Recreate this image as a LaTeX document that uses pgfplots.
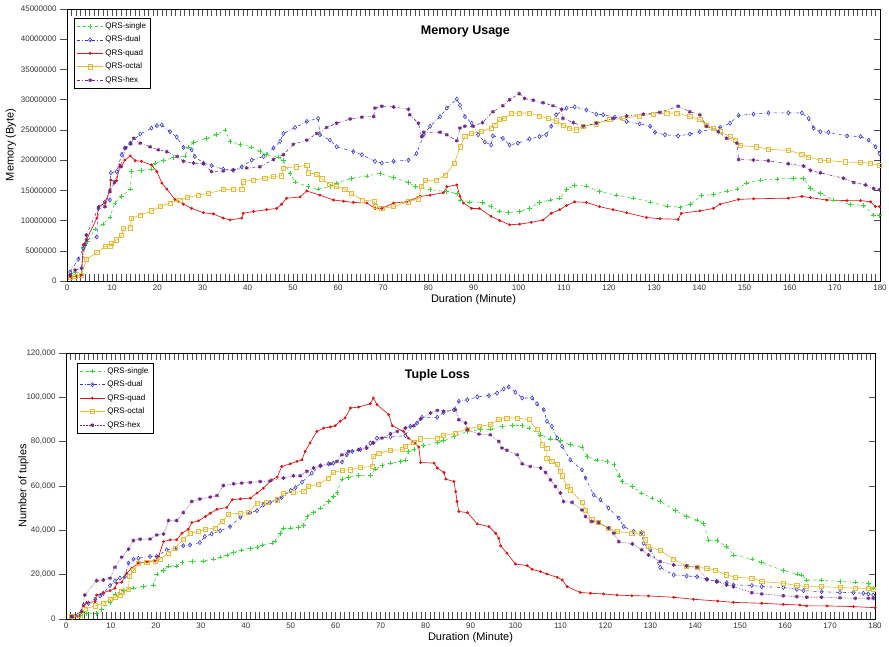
\documentclass[border=0pt]{standalone}
\usepackage{pgfplots}
\pgfplotsset{compat=1.18}
\usepackage{fontspec}
\setmainfont{Liberation Sans}
\definecolor{cgreen}{RGB}{50,215,50}
\definecolor{cblue}{RGB}{50,50,205}
\definecolor{cred}{RGB}{220,20,20}
\definecolor{cgold}{RGB}{228,188,55}
\definecolor{cpurple}{RGB}{110,40,135}
\pgfplotsset{
  common/.style={
    scale only axis, anchor=south west,
    xmin=0, xmax=180, xtick={0,10,...,180}, minor x tick num=9,
    xtick align=inside, ytick align=outside, xtick pos=both, ytick pos=left,
    major tick length=7pt, minor tick length=7pt,
    every tick/.style={black!70, line width=0.4pt},
    every minor tick/.style={black!70, line width=0.4pt},
    tick label style={font=\fontsize{8}{9}\selectfont, black!80},
    label style={font=\fontsize{11}{12}\selectfont},
    /pgf/number format/assume math mode=true,
    xlabel={Duration (Minute)},
    xlabel style={yshift=3pt},
    legend cell align=left,
    legend style={font=\fontsize{8}{9}\selectfont, draw=black, inner sep=2.5pt, row sep=2.2pt, legend columns=1},
    legend image code/.code={\draw[mark repeat=2,mark phase=2,##1] plot coordinates {(0cm,0cm)(0.45cm,0cm)(0.9cm,0cm)};},
  },
  rightticks/.style={
    scale only axis, anchor=south west, xmin=0, xmax=180,
    axis x line=none, axis y line*=right, ytick pos=right,
    tick align=inside, major tick length=6pt, yticklabels={},
    every tick/.style={black!70, line width=0.4pt},
  },
  sgl/.style={cgreen, dashed, line width=0.55pt, mark=+, mark size=2.3pt, mark options={solid}},
  dul/.style={cblue, dash dot, line width=0.55pt, mark=diamond, mark size=2.1pt, mark options={solid}},
  qud/.style={cred, solid, line width=0.65pt, mark=*, mark size=1.1pt},
  oct/.style={cgold, solid, line width=0.65pt, mark=square, mark size=2.1pt},
  hexa/.style={cpurple, line width=0.55pt, mark=asterisk, mark size=1.9pt, mark options={solid, line width=0.9pt}},
}
\begin{document}
\begin{tikzpicture}
\path[use as bounding box] (0,0) rectangle (889pt,647pt);
\begin{axis}[rightticks, at={(67pt,366pt)}, width=813pt, height=272pt, ymin=0, ymax=45, ytick={0,5,...,45}]
\end{axis}
\begin{axis}[common,
  at={(67pt,366pt)}, width=813pt, height=272pt,
  ymin=0, ymax=45, ytick={0,5,...,45},
  yticklabels={0,5000000,10000000,15000000,20000000,25000000,30000000,35000000,40000000,45000000},
  ylabel={Memory (Byte)}, ylabel style={yshift=-2pt},
  title={Memory Usage},
  title style={at={(0.49,1)}, anchor=north, yshift=-19pt, font=\bfseries\fontsize{12.5}{14}\selectfont},
  legend style={at={(0.009,0.967)}, anchor=north west},
]
\addplot[sgl] coordinates {(0.7,1.0)(1.8,1.5)(3.2,1.2)(3.6,5.5)(4.5,6.5)(6.2,8.6)(8.0,9.4)(9.5,10.6)(10.6,12.9)(12.1,14.0)(14,15.2)(14.3,18.1)(16.5,18.3)(18.7,18.5)(19.5,19.5)(21.3,19.9)(23.5,20.4)(26.1,20.7)(26.9,22.2)(28,22.9)(30.9,23.6)(33.1,24.2)(35,25.0)(36.1,23.1)(38.3,22.6)(40.9,22.2)(42.7,21.4)(44.2,20.9)(46.8,20.5)(47.9,19.9)(49.4,17.8)(50.5,16.4)(53.4,15.6)(55.6,15.2)(58.2,15.6)(59.7,16.2)(63,17.0)(66.4,17.4)(69.3,17.8)(72.3,17.1)(75.6,16.3)(77.1,15.6)(80.4,15.1)(84,14.8)(86.3,14.5)(87,13.4)(89.1,13.1)(92,13.0)(93.9,12.3)(95.8,11.6)(97.6,11.3)(100.2,11.5)(102.4,12.0)(104.6,13.0)(106.9,13.4)(109.1,13.7)(110.6,15.1)(112.4,15.8)(115,15.7)(117.9,14.8)(121.7,14.2)(125.4,13.7)(129.1,13.1)(132.8,12.4)(135.7,12.2)(138,12.7)(140.5,14.1)(143.1,14.3)(146.1,14.9)(148.3,15.2)(150.5,16.2)(153.5,16.7)(157.2,16.9)(160.9,17.0)(163.1,17.0)(164.6,15.3)(166.8,14.5)(169.7,13.4)(173.4,12.7)(176.4,12.5)(178.6,10.9)(179.9,10.8)};
\addlegendentry{QRS-single}
\addplot[dul] coordinates {(0.7,1.5)(2.5,3.6)(3.6,5.4)(4.3,6.8)(6.6,7.3)(7.0,12.0)(8.4,13.1)(9.5,13.4)(9.7,17.9)(11,18.1)(12.1,20.9)(12.8,22.0)(14,22.8)(16.2,24.3)(18.7,25.3)(19.9,25.7)(21,25.8)(22.8,24.7)(24.3,23.8)(25.8,22.1)(27.6,21.7)(28.3,20.6)(30.2,19.5)(32,19.1)(34.6,18.5)(36.8,18.3)(38.7,18.9)(40.9,20.0)(43.5,20.6)(45.7,22.0)(47.2,23.1)(47.9,24.4)(50.5,25.4)(53.1,26.4)(55.6,26.9)(56,24.2)(58.2,23.3)(59.7,22.2)(63.4,21.4)(65.3,20.9)(68.2,19.8)(69.7,19.5)(72.3,19.8)(75.6,20.0)(77.4,21.1)(79,24.2)(80.4,25.6)(82.6,27.2)(84.1,28.6)(86.3,30.1)(87,29.1)(88.1,27.2)(89.6,26.1)(91,24.2)(92.5,23.0)(93.9,22.5)(94.3,24.0)(96.5,23.6)(98,22.5)(99.8,22.8)(102.4,23.5)(104.6,23.9)(106.1,24.2)(107.2,25.6)(108.3,27.5)(110.6,28.6)(112.4,28.8)(115,28.3)(117.2,27.6)(118.7,27.5)(121.3,27.1)(123.9,26.4)(126.8,26.0)(129.1,25.6)(130.2,24.6)(132.4,24.2)(135.3,24.0)(137.9,24.3)(140.1,24.7)(144.6,25.4)(146.8,26.1)(148.7,27.4)(152,27.6)(155.3,27.8)(159.7,27.8)(162.7,27.8)(164.2,26.9)(165.3,25.3)(166.8,24.7)(168.6,24.6)(172.7,24.0)(175.7,23.9)(177.5,23.3)(179,22.2)(179.9,21.1)};
\addlegendentry{QRS-dual}
\addplot[qud] coordinates {(0.7,0.7)(2.1,0.8)(3.2,1.0)(3.6,6.0)(4.3,6.8)(6.6,10.4)(7,12.3)(8.4,12.9)(9.5,15.1)(9.7,16.7)(11,16.6)(11.7,19.2)(12.1,18.9)(12.8,20.0)(14,20.7)(15.1,19.9)(16.5,19.8)(18.7,19.2)(19.9,18.1)(21,16.2)(22.1,15.2)(23.9,13.5)(25.8,12.7)(27.6,12.0)(30.2,11.3)(32.4,11.1)(34.6,10.4)(36.1,10.1)(38.7,10.4)(39,11.2)(41.3,11.5)(44.2,11.8)(46.4,12.0)(47.5,12.7)(48.6,13.7)(51.6,13.9)(53.1,14.9)(56,14.2)(59,13.4)(61.2,13.2)(63.4,13.0)(66.4,12.9)(68.2,12.0)(69.7,12.0)(72.3,12.9)(75.2,13.1)(78.2,14.0)(80.4,14.2)(83.3,14.6)(84.1,15.6)(86.3,15.9)(87,14.0)(87.8,12.9)(89.6,12.0)(91.3,12.0)(93.9,10.7)(95.8,10.0)(98,9.3)(100.2,9.4)(102.8,9.7)(105.4,10.1)(107.2,11.2)(109.1,11.8)(110.6,12.5)(112.4,13.1)(115,13.0)(117.9,12.3)(120.9,11.8)(123.9,11.3)(128.3,10.5)(131.3,10.3)(135.3,10.2)(136,11.2)(140.1,11.6)(143.1,12.0)(144.6,12.7)(148.7,13.5)(152,13.6)(159.7,13.7)(162.7,14.0)(164.6,13.8)(168.2,13.4)(172.7,13.3)(175.7,13.3)(177.9,13.1)(179,12.3)(179.9,12.3)};
\addlegendentry{QRS-quad}
\addplot[oct] coordinates {(0.7,0.55)(1.8,0.8)(3.2,1.0)(4.3,3.6)(6.6,4.7)(8.4,5.7)(9.5,5.8)(9.9,6.2)(11,6.8)(12.1,7.5)(12.5,8.7)(14,8.8)(14.3,10.4)(16.2,10.9)(18.7,11.6)(20.6,12.3)(22.8,12.9)(25,13.4)(26.6,13.8)(29,14.2)(31.3,14.5)(34.6,15.1)(36.8,15.2)(38.7,15.2)(39,16.4)(41.3,16.7)(43.8,17.0)(45.7,17.3)(47.5,17.4)(47.9,18.7)(50.8,18.9)(53.1,19.1)(53.4,17.9)(55.3,17.7)(56.4,16.9)(58.2,16.0)(59.7,15.6)(61.5,15.2)(63,14.5)(65.3,13.4)(68,13.2)(68.2,12.3)(69.7,12.0)(72.3,12.3)(75.6,13.1)(77.8,13.6)(78.5,15.6)(79.3,16.6)(81.8,16.7)(83.7,17.5)(85.8,19.5)(87,22.2)(88.1,23.9)(89.6,24.4)(91.7,24.7)(93.9,25.3)(94.7,25.8)(95.8,26.7)(96.9,26.9)(98.4,27.8)(100.2,27.8)(102.4,27.8)(104.6,27.3)(106.5,26.9)(108.3,26.5)(109.8,25.8)(111.2,25.3)(112.8,25.0)(114.3,25.6)(117.2,26.0)(120.2,26.7)(123.1,26.9)(126.8,27.3)(129.8,27.6)(132.8,27.8)(135,27.8)(137.9,27.2)(140.1,26.7)(141.6,25.7)(143.1,25.3)(144.6,24.7)(146.8,23.9)(148,23.3)(149.1,22.4)(152.7,22.2)(155.3,21.8)(159.7,21.6)(162.7,21.0)(164.2,20.5)(166.8,20.0)(168.6,19.9)(172.3,19.7)(175.7,19.6)(177.9,19.5)(179.9,19.1)};
\addlegendentry{QRS-octal}
\addplot[hexa, dash dot] coordinates {(0.7,1.0)(1.8,1.8)(3.2,2.1)(4,6.0)(4.3,7.6)(7,12.2)(8.4,12.3)(9.5,14.8)(10.5,16.3)(11.8,18.9)(13,22.0)(14.1,22.7)(14.8,23.6)(16.2,22.8)(18.4,22.2)(20.2,21.7)(22.1,21.4)(24.4,20.6)(25.8,19.8)(28,19.5)(30.2,19.4)(32,18.1)(34.6,18.2)(36.8,18.4)(39.8,18.7)(42.7,18.9)(45.7,20.1)(47.9,20.9)(50.1,22.6)(53.1,23.3)(55.3,24.4)(57.5,25.4)(59.7,26.1)(62.7,26.8)(65.3,27.1)(67.9,27.2)(68.2,28.6)(69.7,28.9)(72.3,28.8)(75.6,28.4)(75.9,27.5)(77.8,26.1)(78.5,23.9)(79,24.6)(82.6,24.6)(84.1,24.2)(86.3,23.2)(87,25.3)(88.1,25.6)(89.9,25.6)(92,26.2)(94.3,28.0)(96.5,29.0)(98,30.0)(100.1,31.0)(101.3,30.2)(103.2,29.9)(105.4,29.5)(107.6,29.0)(109.5,28.4)(109.8,26.9)(112.1,26.2)(114.3,25.6)(117.2,26.1)(120.9,26.9)(123.9,27.3)(127.6,27.6)(131.3,27.9)(135.3,28.9)(137.9,28.0)(140.1,27.5)(141.6,25.6)(144.2,24.7)(146,23.6)(148.3,22.8)(148.7,20.1)(152,20.0)(155.3,19.9)(159.7,19.4)(163.1,19.0)(164.6,18.3)(166.8,17.9)(171.9,17.0)(174.2,16.3)(176.8,15.9)(178.6,15.3)(179.9,15.1)};
\addlegendentry{QRS-hex}
\end{axis}
\begin{axis}[rightticks, at={(66pt,28pt)}, width=809pt, height=266pt, ymin=0, ymax=120, ytick={0,20,...,120}]
\end{axis}
\begin{axis}[common,
  at={(66pt,28pt)}, width=809pt, height=266pt,
  ymin=0, ymax=120, ytick={0,20,...,120},
  yticklabels={0,{20,000},{40,000},{60,000},{80,000},{100,000},{120,000}},
  ylabel={Number of tuples}, ylabel style={yshift=-9pt},
  title={Tuple Loss},
  title style={at={(0.459,1)}, anchor=north, yshift=-19pt, font=\bfseries\fontsize{12.5}{14}\selectfont},
  legend style={at={(0.013,0.963)}, anchor=north west},
]
\addplot[sgl] coordinates {(1.3,0.6)(3.1,1.8)(4.6,2.6)(6.8,2.6)(7.9,4.4)(9.8,7.4)(10.9,11.3)(12.8,12.8)(15,13.9)(17.2,14.6)(19.5,15.4)(20.2,20.3)(21.7,21.8)(22.8,23.9)(24.6,23.9)(25.8,25.6)(28,25.9)(30.6,26.2)(32.8,27.0)(34.3,27.9)(35.8,28.9)(37.3,30.0)(39.1,31.2)(41,31.9)(42.5,32.2)(43.6,33.4)(45.8,34.2)(46.5,35.2)(47.7,38.7)(48.4,41.0)(49.9,41.0)(51.7,41.3)(52.9,42.2)(53.6,46.2)(55.1,48.0)(56.6,50.0)(58.4,53.0)(59.5,55.3)(60.3,57.1)(61.4,63.1)(62.9,63.9)(65.1,64.8)(67.7,64.8)(68.8,67.6)(70.3,69.3)(72.2,70.3)(74.4,71.1)(75.5,71.8)(76.2,75.6)(77.4,76.4)(79.6,78.2)(82.6,79.7)(84,80.4)(86.3,82.4)(89.3,84.6)(92.2,85.4)(94.4,85.7)(97,86.9)(99.3,87.3)(101.5,87.3)(103,86.1)(105.6,83.1)(107.8,81.3)(110,80.6)(112.2,78.6)(114.8,77.6)(115.9,73.3)(118.1,71.8)(120.4,71.1)(121.9,69.6)(123,64.6)(123.7,62.0)(126,59.8)(128.1,56.8)(130.4,54.5)(132.2,53.0)(135.6,48.9)(138.1,46.2)(140.4,44.7)(141.9,43.2)(142.9,35.7)(144.8,35.4)(147,32.7)(148.5,28.9)(152.6,27.0)(154.8,25.5)(159.6,21.8)(162.6,20.3)(163.7,19.9)(164.8,17.6)(168.1,17.6)(172.2,16.9)(175.6,16.6)(178.5,16.1)(179.6,13.9)};
\addlegendentry{QRS-single}
\addplot[dul] coordinates {(1.3,0.6)(2.7,1.8)(3.9,6.3)(5,7.1)(6.5,8.9)(7.6,10.4)(8.3,11.6)(9.8,15.1)(10.9,17.2)(12,18.4)(13.1,19.1)(13.9,25.2)(15,27.0)(16.1,27.4)(18.7,28.2)(20.2,28.2)(22.4,31.2)(24.6,31.9)(26.1,33.1)(27.6,33.4)(29.8,34.5)(30.9,37.2)(32.4,38.4)(34.3,39.8)(36.5,41.7)(38.8,45.9)(41,48.0)(42.5,48.9)(43.9,51.5)(45.4,52.6)(46.9,53.8)(48,54.8)(50,58.0)(51.1,59.3)(52.5,61.7)(54.7,65.8)(56.6,69.1)(58.4,70.0)(59.5,70.3)(61.4,70.8)(62.5,74.1)(63.7,75.6)(65.5,76.4)(67.7,79.4)(69.2,81.6)(72.2,82.1)(75.5,82.7)(76.6,86.9)(78.1,88.4)(79.2,91.0)(82.6,91.0)(84,93.2)(86.3,94.4)(87.4,98.2)(89.3,98.9)(91.5,100.2)(94.1,100.8)(95.9,101.9)(97.4,103.8)(98.5,104.7)(100,102.3)(101.5,99.7)(103.7,99.7)(104.8,97.1)(106.3,94.4)(107,89.2)(108.1,86.9)(109.3,81.6)(110.4,77.9)(112.2,71.8)(114.8,67.3)(115.6,63.6)(117.4,56.0)(118.9,53.8)(120.7,50.0)(123,45.5)(124.1,41.7)(126.3,39.5)(128.1,39.0)(128.5,34.2)(130,31.2)(132.2,23.3)(135.2,19.9)(138.1,19.4)(140.4,19.1)(142.6,17.9)(144.8,16.9)(147,16.4)(148.5,15.4)(152.6,15.1)(154.8,14.6)(159.6,14.2)(162.6,13.4)(164.1,12.8)(168.1,12.3)(172.2,12.0)(175.2,11.9)(177.4,11.6)(178.5,11.3)(179.6,10.8)};
\addlegendentry{QRS-dual}
\addplot[qud] coordinates {(1.3,0.6)(2.7,1.1)(3.9,5.9)(4.6,7.4)(6.5,7.8)(6.8,10.8)(8.3,11.9)(9.8,12.8)(10.9,13.9)(11.3,16.1)(12.4,16.6)(13.5,20.6)(14.6,22.9)(16.1,25.2)(18,25.8)(19.8,26.4)(20.6,28.2)(21.7,34.9)(23.2,35.7)(24.6,35.7)(25.8,38.7)(27.2,40.5)(28,43.5)(29.5,44.3)(31,46.2)(32.1,47.7)(33.6,49.5)(35.8,50.3)(37,53.8)(38.8,54.2)(41,54.5)(42.5,56.8)(43.9,59.0)(45.8,62.8)(47,64.0)(48,68.8)(49.9,70.0)(51.4,71.1)(52.5,71.8)(53.2,75.6)(54.3,79.4)(55.8,84.6)(57.3,86.1)(58.8,86.6)(59.9,87.2)(61,89.2)(62.1,90.7)(63.3,95.2)(65.1,95.6)(67.7,97.1)(68.4,99.7)(69.2,96.7)(71.8,92.2)(72.6,87.2)(75.1,84.6)(76.2,81.6)(77.7,79.1)(78.5,77.6)(78.9,70.6)(81.9,70.3)(82.6,68.1)(84.1,66.1)(84.5,63.1)(86.3,62.0)(86.7,57.5)(87,53.0)(87.4,48.5)(89.3,48.0)(91.5,42.9)(94.1,41.7)(95.6,38.7)(96.3,36.4)(96.7,33.0)(98.1,29.7)(100,24.8)(102.6,24.1)(103.7,22.4)(105.6,21.4)(107,20.3)(109.3,18.8)(110.4,17.6)(111.5,14.6)(114.4,12.0)(116.7,11.6)(119.6,11.3)(122.6,10.8)(125.9,10.5)(129.6,10.4)(135.2,9.8)(139.6,8.9)(145,8.1)(148.5,7.5)(154.8,7.1)(159.6,6.6)(163.3,6.3)(164.8,5.9)(169.3,5.9)(175.2,5.6)(180,5.1)};
\addlegendentry{QRS-quad}
\addplot[oct] coordinates {(1.3,1.1)(3.1,1.5)(4.2,4.5)(6.5,5.9)(8.3,7.1)(9.8,8.9)(10.9,9.8)(12,10.8)(12.4,12.3)(13.9,13.4)(14.1,19.4)(15,21.8)(16.1,25.2)(18,25.5)(19.8,25.9)(20.9,27.0)(22.8,29.7)(24.3,31.9)(26.1,36.0)(27.6,38.7)(29.5,39.5)(31,40.5)(33.2,41.0)(34.7,44.0)(36.2,47.3)(38.8,47.7)(40.6,48.0)(42.5,52.3)(44.7,52.7)(47,53.8)(48.4,56.8)(50.6,57.2)(52.9,57.5)(54,59.8)(56.2,60.8)(58.4,63.6)(59.5,66.1)(61.4,67.0)(63.3,67.3)(65.5,68.4)(68.1,68.8)(68.4,73.3)(69.6,74.8)(72.2,76.0)(74.8,76.4)(75.5,77.9)(77.4,79.7)(78.9,81.3)(82.6,81.6)(84,82.7)(86.7,83.9)(89.3,85.7)(91.9,86.9)(94.4,87.7)(96.3,89.9)(98.1,90.7)(100.4,90.7)(103,89.9)(104.8,85.4)(106,78.6)(107,77.1)(107,72.6)(108.1,71.1)(109.3,69.6)(110,66.6)(110.4,64.6)(111.5,59.8)(112.2,58.3)(114.8,52.6)(115.6,49.2)(117,44.7)(118.5,43.5)(120.7,41.0)(122.6,39.5)(125.9,38.7)(128.1,38.7)(128.9,35.7)(129.6,32.7)(132.2,30.9)(135.2,27.0)(138.1,23.9)(140.4,23.3)(142.6,22.9)(144.4,22.1)(147,19.9)(148.9,18.8)(152.6,18.4)(154.8,16.9)(159.6,16.1)(162.6,15.1)(164.8,14.6)(168.1,14.6)(172.2,14.2)(175.6,13.9)(178.5,13.9)(179.6,13.4)};
\addlegendentry{QRS-octal}
\addplot[hexa, densely dotted] coordinates {(1.3,1.1)(3.5,3.3)(4.2,10.8)(6.8,17.3)(8.3,17.6)(9.8,18.4)(10.9,23.3)(12.4,27.9)(13.9,31.5)(15,35.4)(16.5,36.0)(18.7,36.1)(20.2,37.9)(21.7,38.3)(22.8,44.4)(24.6,44.4)(26.1,48.0)(28,53.0)(29.8,54.1)(32.1,55.0)(33.6,55.7)(35,60.2)(37.3,61.0)(39.1,61.3)(41,61.6)(43.2,62.0)(45.4,62.3)(48.4,63.6)(50.6,64.6)(52.1,64.6)(53.6,66.6)(55.1,68.1)(56.6,69.1)(58.8,70.0)(60.3,71.1)(61.4,74.1)(62.9,75.6)(65.1,76.4)(66.9,77.1)(68.4,79.4)(70.3,81.6)(72.2,83.6)(73.7,84.6)(75.5,86.1)(77.4,87.2)(78.9,90.2)(81.1,92.9)(82.6,94.1)(84,93.7)(86.6,94.4)(87.4,89.9)(88.9,88.4)(89.3,85.4)(91.9,83.4)(94.4,83.1)(96.3,80.1)(97,77.1)(98.1,76.1)(100.4,74.1)(101.5,70.0)(103.3,68.8)(105.6,68.1)(106.7,66.1)(107.8,62.8)(108.9,59.8)(110,56.8)(110.7,53.0)(112.6,52.6)(114.8,49.2)(115.6,46.2)(117,44.0)(118.5,43.5)(120.7,41.0)(121.9,38.7)(123,34.9)(126,33.9)(128.1,31.2)(129.6,28.9)(132.2,25.9)(135.2,24.4)(138.1,23.9)(140.4,23.3)(142.6,17.9)(144.8,16.9)(147,15.4)(148.5,14.6)(152.6,11.9)(154.8,11.3)(159.6,10.5)(162.6,10.1)(164.8,9.8)(168.1,9.8)(172.2,9.6)(175.6,9.3)(178.5,9.3)(179.6,9.3)};
\addlegendentry{QRS-hex}
\end{axis}
\end{tikzpicture}
\end{document}
